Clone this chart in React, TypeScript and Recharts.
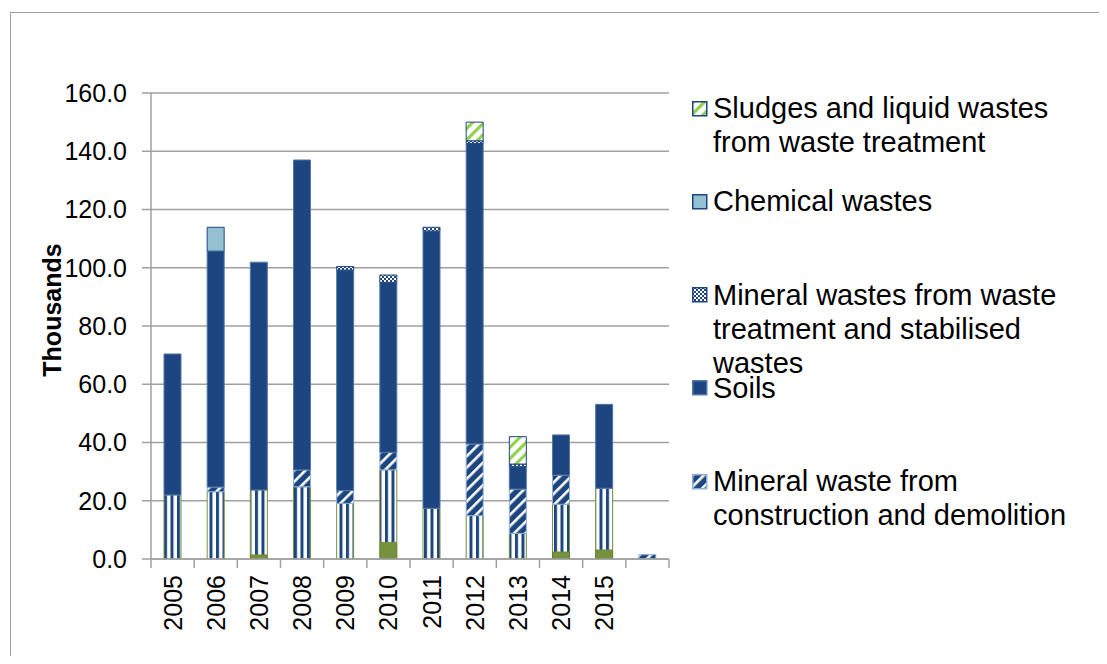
import React from 'react';
import { BarChart, Bar, XAxis, YAxis, CartesianGrid, Label } from 'recharts';

const years = ['2005', '2006', '2007', '2008', '2009', '2010', '2011', '2012', '2013', '2014', '2015', ''];
const otherSolid = [0, 0, 1.4, 0, 0, 5.7, 0, 0, 0, 2.4, 3.1, 0];
const otherStriped = [22.0, 23.1, 22.3, 24.8, 19.1, 24.9, 17.4, 14.9, 8.8, 16.4, 21.2, 0];
const constructionDemolition = [0, 1.6, 0, 5.8, 4.4, 6.0, 0, 24.6, 15.2, 10.0, 0, 1.5];
const soils = [48.4, 81.0, 78.2, 106.4, 75.7, 58.4, 95.2, 103.2, 7.7, 13.8, 28.8, 0];
const mineralTreatment = [0, 0, 0, 0, 1.2, 2.5, 1.3, 0.9, 0.9, 0, 0, 0];
const chemical = [0, 8.2, 0, 0, 0, 0, 0, 0, 0, 0, 0, 0];
const sludges = [0, 0, 0, 0, 0, 0, 0, 6.4, 9.4, 0, 0, 0];
const yTicks = [0, 20, 40, 60, 80, 100, 120, 140, 160];

const NAVY = '#1d4580';
const LIGHT_BORDER = '#8eb0d8';
const OLIVE = '#76923c';
const GRID = '#a0a0a0';
const FONT = '"Liberation Sans", Arial, sans-serif';

const data = years.map((y, i) => ({
  year: y,
  otherSolid: otherSolid[i],
  otherStriped: otherStriped[i],
  cd: constructionDemolition[i],
  soils: soils[i],
  mineral: mineralTreatment[i],
  chemical: chemical[i],
  sludges: sludges[i],
}));

const series = [
  { key: 'otherSolid', name: 'Other wastes', fill: OLIVE, stroke: '#5f7a2c', legend: false },
  { key: 'otherStriped', name: 'Other mineral wastes', fill: 'url(#pVert)', stroke: OLIVE, legend: false },
  { key: 'cd', name: 'Mineral waste from\nconstruction and demolition', fill: 'url(#pDiag)', stroke: LIGHT_BORDER, legend: true },
  { key: 'soils', name: 'Soils', fill: NAVY, stroke: '#5677a8', legend: true },
  { key: 'mineral', name: 'Mineral wastes from waste\ntreatment and stabilised\nwastes', fill: 'url(#pCheck)', stroke: NAVY, legend: true },
  { key: 'chemical', name: 'Chemical wastes', fill: '#93c1d1', stroke: NAVY, legend: true },
  { key: 'sludges', name: 'Sludges and liquid wastes\nfrom waste treatment', fill: 'url(#pSludge)', stroke: NAVY, legend: true },
];

const Patterns = () => (
  <svg width={0} height={0} style={{ position: 'absolute', left: 0, top: 0 }}>
    <defs>
      <pattern id="pVert" patternUnits="userSpaceOnUse" width={6.5} height={10}>
        <rect x={0} y={0} width={6.5} height={10} fill="#ffffff" />
        <rect x={0} y={0} width={3} height={10} fill={NAVY} />
      </pattern>
      <pattern id="pDiag" patternUnits="userSpaceOnUse" width={8} height={8} patternTransform="rotate(45)">
        <rect x={0} y={0} width={8} height={8} fill={NAVY} />
        <rect x={0} y={0} width={2.6} height={8} fill="#ffffff" />
      </pattern>
      <pattern id="pSludge" patternUnits="userSpaceOnUse" width={8} height={8} patternTransform="rotate(45)">
        <rect x={0} y={0} width={8} height={8} fill="#ffffff" />
        <rect x={0} y={0} width={3.2} height={8} fill="#92d050" />
      </pattern>
      <pattern id="pCheck" patternUnits="userSpaceOnUse" width={4} height={4}>
        <rect x={0} y={0} width={4} height={4} fill={NAVY} />
        <rect x={0} y={0} width={2} height={2} fill="#ffffff" />
        <rect x={2} y={2} width={2} height={2} fill="#ffffff" />
      </pattern>
    </defs>
  </svg>
);

const YearTick = (props: any) => {
  const { x, y, payload, index, width, visibleTicksCount } = props;
  const count = visibleTicksCount || years.length;
  const band = (width || 518) / count;
  const left = x - band / 2;
  return (
    <g>
      <line x1={left} x2={left} y1={y} y2={y + 9} stroke={GRID} strokeWidth={1.5} />
      {index === count - 1 && (
        <line x1={left + band} x2={left + band} y1={y} y2={y + 9} stroke={GRID} strokeWidth={1.5} />
      )}
      <text
        x={x}
        y={y + 16}
        transform={`rotate(-90 ${x} ${y + 16})`}
        textAnchor="end"
        dy="0.36em"
        fontSize={25}
        fontFamily={FONT}
        fill="#000"
      >
        {payload.value}
      </text>
    </g>
  );
};

const ThousandsLabel = (props: any) => {
  const vb = props.viewBox || { x: 0, y: 85, width: 143, height: 466 };
  const cx = vb.x + 44;
  const cy = vb.y + vb.height / 2 - 16;
  return (
    <text
      x={cx}
      y={cy}
      transform={`rotate(-90 ${cx} ${cy})`}
      textAnchor="middle"
      dominantBaseline="central"
      fontSize={25}
      fontWeight="bold"
      fontFamily={FONT}
      fill="#000"
    >
      Thousands
    </text>
  );
};

const LegendSymbol = ({ fill, stroke }: { fill: string; stroke: string }) => (
  <svg width={16} height={16} style={{ display: 'block' }}>
    <rect x={0.75} y={0.75} width={14} height={14} fill={fill} stroke={stroke} strokeWidth={1.5} />
  </svg>
);

const legendItems = series.filter((s) => s.legend).slice().reverse();

export default function App() {
  return (
    <div style={{ position: 'relative', width: 1099, height: 648, overflow: 'hidden', background: '#fff' }}>
      <Patterns />
      <div
        style={{
          position: 'absolute',
          left: 2,
          top: 4,
          width: 1200,
          height: 800,
          borderLeft: '1.5px solid #a0a0a0',
          borderTop: '1.5px solid #a0a0a0',
        }}
      />
      <div style={{ position: 'absolute', left: 0, top: 0 }}>
        <BarChart
          width={1099}
          height={648}
          data={data}
          margin={{ top: 85, right: 438, bottom: 7, left: 0 }}
          barSize={17}
        >
          <CartesianGrid vertical={false} stroke={GRID} strokeWidth={1.5} />
          <XAxis
            dataKey="year"
            height={90}
            axisLine={{ stroke: GRID, strokeWidth: 1.5 }}
            tickLine={false}
            tickSize={0}
            tickMargin={0}
            interval={0}
            tick={<YearTick />}
          />
          <YAxis
            width={143}
            domain={[0, 160]}
            ticks={yTicks}
            allowDataOverflow
            axisLine={{ stroke: GRID, strokeWidth: 1.5 }}
            tickLine={{ stroke: GRID, strokeWidth: 1.5 }}
            tickSize={9}
            tickMargin={15}
            tickFormatter={(v: number) => v.toFixed(1)}
            tick={{ fontSize: 25, fontFamily: FONT, fill: '#000' }}
          >
            <Label content={<ThousandsLabel />} />
          </YAxis>
          {series.map((s) => (
            <Bar
              key={s.key}
              dataKey={s.key}
              name={s.name}
              stackId="a"
              fill={s.fill}
              stroke={s.stroke}
              strokeWidth={1}
              isAnimationActive={false}
            />
          ))}
        </BarChart>
      </div>
      <div style={{ position: 'absolute', left: 684, top: 83, fontFamily: FONT }}>
        {legendItems.map((s) => (
          <div key={s.key} style={{ height: 93.25, display: 'flex', alignItems: 'flex-start' }}>
            <div style={{ marginTop: 9.5, width: 16, flex: 'none' }}>
              <LegendSymbol fill={s.fill} stroke={s.stroke} />
            </div>
            <div
              style={{
                marginLeft: 5,
                fontSize: 29,
                lineHeight: '34px',
                color: '#000',
                whiteSpace: 'pre-line',
              }}
            >
              {s.name}
            </div>
          </div>
        ))}
      </div>
    </div>
  );
}
